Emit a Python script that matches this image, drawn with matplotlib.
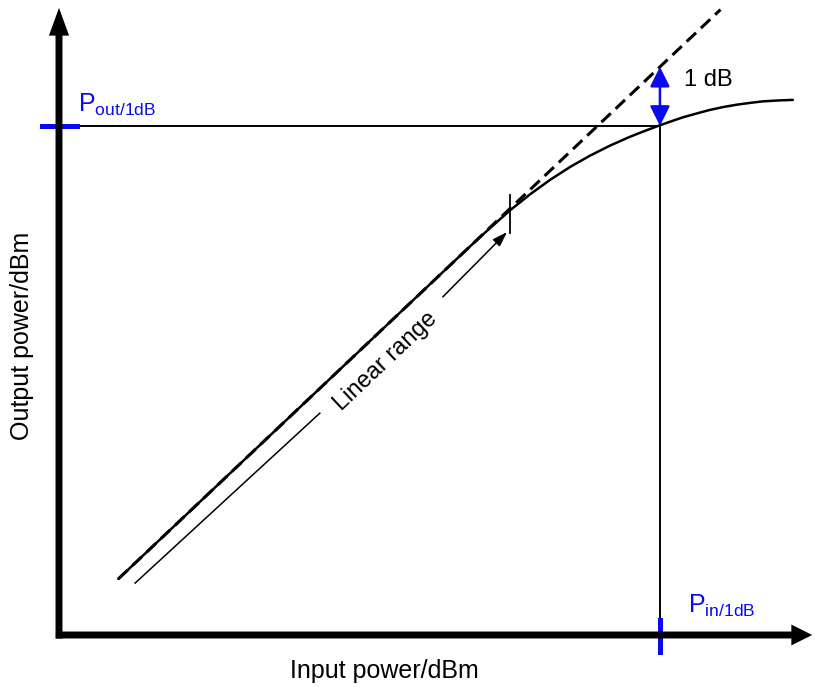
import numpy as np
import matplotlib.pyplot as plt

plt.rcParams['font.family'] = ['Liberation Sans', 'DejaVu Sans']
plt.rcParams['mathtext.fontset'] = 'custom'
plt.rcParams['mathtext.rm'] = 'Liberation Sans'
plt.rcParams['mathtext.it'] = 'Liberation Sans'

# ideal linear response (dashed)
pin_ideal = [0.95, 10.6]
pout_ideal = [0.95, 10.6]

pin_real = [0.95, 6.60, 6.91, 7.23, 7.55, 7.87, 8.19, 8.51, 8.83, 9.15, 9.39,
            9.63, 9.82, 10.0, 10.22, 10.43, 10.65, 10.87, 11.08, 11.28, 11.52, 11.76]
pout_real = [0.95, 6.60, 6.90, 7.20, 7.47, 7.715, 7.933, 8.125, 8.295, 8.445, 8.545,
             8.64, 8.71, 8.775, 8.84, 8.90, 8.95, 8.99, 9.02, 9.045, 9.06, 9.07]

# 1 dB compression point
pin_1db = 9.63
pout_1db = 8.63
gain_1db = 9.63   # ideal output at pin_1db

# linear range marker
lin_lo = [1.22, 0.88, 4.18, 3.76]    # x0, y0, x1, y1
lin_hi = [6.15, 5.73, 7.18, 6.83]
lin_end_x = 7.23
lin_end_y = [6.81, 7.46]

x_tip = 12.07
y_tip = 10.63

blue = '#0a0af0'

fig = plt.figure(figsize=(8.16, 6.89), dpi=100)
ax = fig.add_axes([0, 0, 1, 1])
ax.set_xlim(-0.9455, 12.131)
ax.set_ylim(-0.9153, 10.763)
ax.axis('off')

# axes with arrows
ax.annotate('', xy=(x_tip, 0), xytext=(-0.05, 0),
            arrowprops=dict(arrowstyle='simple,head_length=1.5,head_width=1.5,tail_width=0.5',
                            mutation_scale=10, color='black', lw=0,
                            shrinkA=0, shrinkB=0))
ax.annotate('', xy=(0, y_tip), xytext=(0, -0.06),
            arrowprops=dict(arrowstyle='simple,head_length=2.0,head_width=1.45,tail_width=0.5',
                            mutation_scale=10, color='black', lw=0,
                            shrinkA=0, shrinkB=0))

# curves
ax.plot(pin_real, pout_real, color='black', lw=1.8, solid_capstyle='round',
        solid_joinstyle='round')
ax.plot(pin_ideal, pout_ideal, color='black', lw=2.2, dashes=(4.2, 2.2))

# 1 dB lines
ax.plot([0, pin_1db], [pout_1db, pout_1db], color='black', lw=1.4)
ax.plot([pin_1db, pin_1db], [0, pout_1db], color='black', lw=1.4)
ax.plot([-0.27, 0.29], [pout_1db, pout_1db], color=blue, lw=3.6)
ax.plot([pin_1db, pin_1db], [-0.29, 0.25], color=blue, lw=3.6)

ax.annotate('', xy=(pin_1db, gain_1db), xytext=(pin_1db, pout_1db),
            arrowprops=dict(arrowstyle='<|-|>,head_length=0.6,head_width=0.3',
                            mutation_scale=20, color=blue, lw=1.8,
                            shrinkA=0, shrinkB=0))
ax.text(10.02, 9.4, '1 dB', fontsize=17, va='center', ha='left')

ax.text(0.30, 8.87, r'$\mathrm{P}_{\mathrm{out/1dB}}$', color=blue, fontsize=18,
        ha='left', va='baseline')
ax.text(10.08, 0.37, r'$\mathrm{P}_{\mathrm{in/1dB}}$', color=blue, fontsize=18,
        ha='left', va='baseline')

# linear range
ax.plot([lin_lo[0], lin_lo[2]], [lin_lo[1], lin_lo[3]], color='black', lw=1.1)
ax.annotate('', xy=(lin_hi[2], lin_hi[3]), xytext=(lin_hi[0], lin_hi[1]),
            arrowprops=dict(arrowstyle='-|>,head_length=0.6,head_width=0.2',
                            mutation_scale=15, color='black', lw=1.1,
                            shrinkA=0, shrinkB=0))
ax.plot([lin_end_x, lin_end_x], lin_end_y, color='black', lw=1.3)

p0 = ax.transData.transform((pin_ideal[0], pout_ideal[0]))
p1 = ax.transData.transform((pin_ideal[1], pout_ideal[1]))
ang = np.degrees(np.arctan2(p1[1] - p0[1], p1[0] - p0[0]))
ax.text(5.24, 4.63, 'Linear range', fontsize=17, rotation=ang,
        rotation_mode='anchor', ha='center', va='center')

ax.text(5.22, -0.61, 'Input power/dBm', fontsize=18, ha='center', va='center')
ax.text(-0.593, 5.07, 'Output power/dBm', fontsize=18, ha='center', va='center',
        rotation=90)

fig.savefig('out.png', dpi=100)
